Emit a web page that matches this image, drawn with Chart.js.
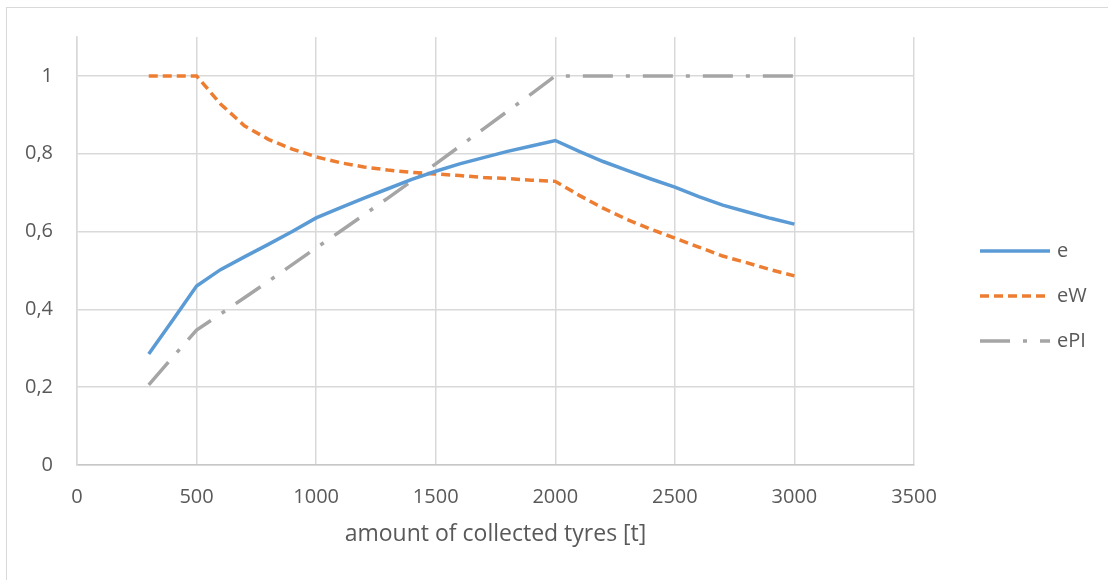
<!DOCTYPE html>
<html>
<head>
<meta charset="utf-8">
<script src="https://cdn.jsdelivr.net/npm/chart.js@4.4.1/dist/chart.umd.min.js"></script>
<style>
  html, body { margin: 0; padding: 0; background: #fff; }
  #wrap { position: relative; width: 1108px; height: 580px; }
  #frame { position: absolute; left: 6px; top: 7px; width: 1102px; height: 573px;
           border-top: 1px solid #d9d9d9; border-left: 1px solid #d9d9d9; box-sizing: border-box; }
  canvas { position: absolute; left: 0; top: 0; }
</style>
</head>
<body>
<div id="wrap">
  <canvas id="chart" width="1108" height="580"></canvas>
  <div id="frame"></div>
</div>
<script>
// amount of collected tyres [t]
const tonnes = [300, 400, 500, 600, 700, 800, 900, 1000, 1100, 1200, 1300, 1400, 1500, 1600,
                1700, 1800, 1900, 2000, 2100, 2200, 2300, 2400, 2500, 2600, 2700, 2800, 2900, 3000];
const e   = [0.285, 0.372, 0.460, 0.502, 0.535, 0.567, 0.600, 0.635, 0.661, 0.686, 0.710, 0.734, 0.755, 0.774,
             0.790, 0.806, 0.820, 0.834, 0.806, 0.780, 0.757, 0.735, 0.714, 0.690, 0.668, 0.651, 0.634, 0.619];
const eW  = [1, 1, 1, 0.928, 0.872, 0.837, 0.812, 0.792, 0.777, 0.766, 0.758, 0.752, 0.748, 0.744,
             0.739, 0.736, 0.732, 0.729, 0.693, 0.660, 0.631, 0.606, 0.583, 0.560, 0.537, 0.520, 0.502, 0.486];
const ePI = [0.206, 0.277, 0.347, 0.388, 0.430, 0.472, 0.515, 0.558, 0.600, 0.643, 0.686, 0.730, 0.774, 0.819,
             0.864, 0.909, 0.954, 1, 1, 1, 1, 1, 1, 1, 1, 1, 1, 1];
const seriesNames = ["e", "eW", "ePI"];
const xTitle = "amount of collected tyres [t]";

const FONT = "'Open Sans', sans-serif";
const TXT = "#595959";

function pts(vals) {
  return tonnes.map((t, i) => ({ x: t, y: vals[i] }));
}

// legend drawn at the right like the original
const sideLegend = {
  id: "sideLegend",
  afterDraw(chart) {
    const ctx = chart.ctx;
    const rows = [251, 296, 341];
    chart.data.datasets.forEach((ds, i) => {
      const y = rows[i];
      ctx.save();
      ctx.strokeStyle = ds.borderColor;
      ctx.lineWidth = ds.borderWidth;
      ctx.setLineDash(ds.borderDash || []);
      ctx.lineCap = "butt";
      ctx.beginPath();
      ctx.moveTo(980, y);
      ctx.lineTo(1050, y);
      ctx.stroke();
      ctx.setLineDash([]);
      ctx.fillStyle = TXT;
      ctx.font = "20px " + FONT;
      ctx.textBaseline = "middle";
      ctx.fillText(ds.label, 1057, y);
      ctx.restore();
    });
  }
};

new Chart(document.getElementById("chart"), {
  type: "line",
  data: {
    datasets: [
      { label: seriesNames[0], data: pts(e), borderColor: "#5b9bd5", borderWidth: 3.5 },
      { label: seriesNames[1], data: pts(eW), borderColor: "#ed7d31", borderWidth: 3.5, borderDash: [9, 5] },
      { label: seriesNames[2], data: pts(ePI), borderColor: "#a5a5a5", borderWidth: 3.5, borderDash: [30, 13, 4, 13] }
    ]
  },
  options: {
    responsive: false,
    animation: false,
    layout: { padding: { left: 0, right: 194, top: 37, bottom: 0 } },
    elements: { point: { radius: 0 }, line: { tension: 0, fill: false } },
    plugins: { legend: { display: false }, tooltip: { enabled: false } },
    scales: {
      x: {
        type: "linear",
        min: 0, max: 3500,
        afterFit(s) { s.height = 115; },
        ticks: { stepSize: 500, color: TXT, font: { family: FONT, size: 20 }, padding: 20, maxRotation: 0,
                 callback: v => String(v) },
        grid: { color: "#d9d9d9", lineWidth: 1.5, drawTicks: false },
        border: { color: "#c8c8c8", width: 1.5 },
        title: { display: true, text: xTitle, color: TXT, font: { family: FONT, size: 23 }, padding: { top: 32, bottom: 32 } }
      },
      y: {
        min: 0, max: 1.1,
        afterFit(s) { s.width = 77; },
        ticks: {
          stepSize: 0.2, includeBounds: false, color: TXT, padding: 24,
          font: { family: FONT, size: 20 },
          callback: v => String(+v.toFixed(1)).replace(".", ",")
        },
        grid: { color: "#d9d9d9", lineWidth: 1.5, drawTicks: false },
        border: { color: "#d9d9d9", width: 1.5 }
      }
    }
  },
  plugins: [sideLegend]
});
</script>
</body>
</html>
